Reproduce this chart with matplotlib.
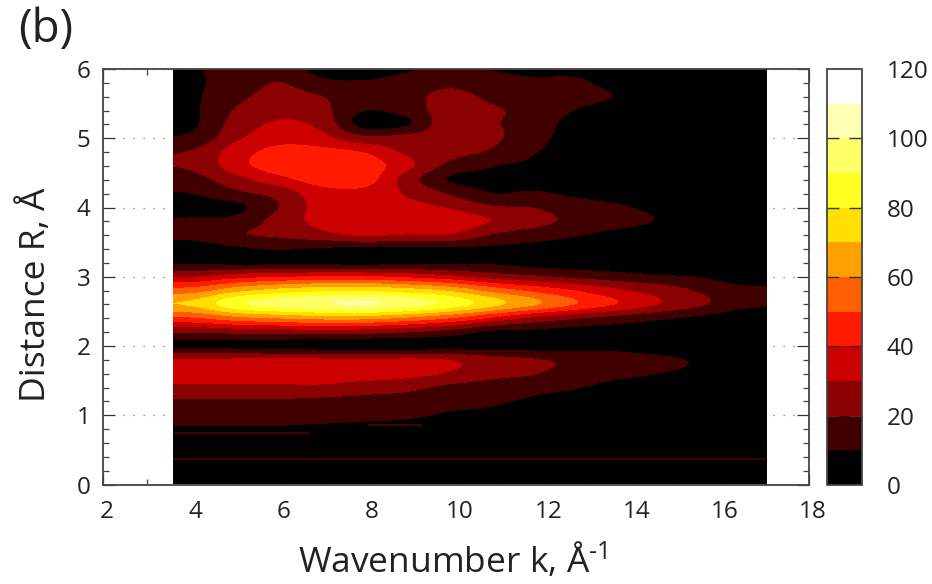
import numpy as np
import matplotlib
matplotlib.use("Agg")
import matplotlib.pyplot as plt
from matplotlib.colors import BoundaryNorm, ListedColormap
from matplotlib.ticker import MultipleLocator
from matplotlib.transforms import ScaledTranslation

plt.rcParams["font.family"] = ["Open Sans", "DejaVu Sans"]
plt.rcParams["mathtext.fontset"] = "custom"
plt.rcParams["mathtext.rm"] = "Open Sans"
plt.rcParams["mathtext.default"] = "regular"

# ------------------------------------------------------------ data
R_VALUES = np.arange(0, 31) * 0.2      # 0.0 ... 6.0
K_RANGE = [3.58, 17.03]

# one list per column of the map (low k -> high k), values at R_VALUES
k_col_01 = [0, 1, 2, 4, 9, 14, 19, 28, 36, 30, 8, 22, 50, 72, 55, 29, 8, 6, 13, 11, 7, 10.5, 17, 22, 21, 12.5, 9, 9, 9, 9, 9.5]
k_col_02 = [0, 1, 2, 4, 9, 14, 19, 28, 37, 31, 7, 24, 58, 88, 66, 35, 7, 9, 19, 13, 8, 18, 27, 36, 35, 28, 24, 21, 17, 14, 13]
k_col_03 = [0, 1, 2, 4, 9, 14, 19, 28, 37, 31, 6, 25, 62, 95, 73, 38, 7, 11, 22, 24, 20, 24, 37, 46, 43, 36, 31, 28, 24, 20, 15]
k_col_04 = [0, 1, 2, 4, 8, 14, 18, 28, 37, 31, 5, 26, 65, 99, 77, 40, 7, 9.5, 27, 33, 34, 36, 45, 48, 43, 33, 27, 23, 20, 12, 7]
k_col_05 = [0, 1, 2, 3, 7, 13, 17, 25, 35, 30, 4, 25, 65, 101, 78, 40, 6, 9, 32, 36, 34, 37, 45, 46, 39, 22, 6, 10.5, 13, 10.5, 6]
k_col_06 = [0, 1, 2, 3, 6, 12, 16, 23, 33, 31, 4, 22, 60, 96, 74, 37, 8, 9, 30, 36, 33, 29, 26, 33, 28, 23, 8.5, 14, 16, 13, 9]
k_col_07 = [0, 0, 1, 2, 3, 9, 13, 18, 29.5, 29.5, 5, 17, 52, 87, 68, 32, 8, 9, 30, 36, 29, 19, 9.5, 18, 24, 26, 26, 25, 23, 17, 11]
k_col_08 = [0, 0, 1, 1, 1, 7, 12, 16, 23, 24, 4, 9, 40, 74, 56, 25, 8.5, 8.5, 20, 30, 21, 10, 7, 11, 19, 22, 21, 21, 18, 14, 9.5]
k_col_09 = [0, 0, 0, 1, 1, 3, 8, 14, 20.5, 20.5, 5, 8, 29, 62, 47, 21, 6, 7, 15, 24, 19.5, 11, 6, 8, 11, 14, 16, 17.5, 16, 12, 7]
k_col_10 = [0, 0, 0, 0, 0, 1, 4, 11, 16.5, 17.5, 5, 6, 22, 50, 39, 17, 5, 5, 11, 17, 14, 8, 4, 3, 5, 5, 6, 10, 14.5, 12, 6]
k_col_11 = [0, 0, 0, 0, 0, 0, 1, 6, 13, 15, 6, 5, 17, 39.5, 31, 14, 3, 3, 7, 14, 11, 6, 3, 2, 2, 2, 3, 5, 9.3, 5, 1]
k_col_12 = [0, 0, 0, 0, 0, 0, 0, 3, 10, 12, 3, 3, 12, 29.5, 25, 11, 2, 2, 4, 9, 7, 4, 2, 1, 1, 1, 1, 2, 3, 2, 0]
k_col_13 = [0, 0, 0, 0, 0, 0, 0, 1, 7, 8, 1, 1, 8, 21, 18, 9, 1, 1, 1, 2, 2, 1, 1, 0, 0, 0, 0, 1, 1, 1, 0]
k_col_14 = [0, 0, 0, 0, 0, 0, 0, 0, 2, 2, 0, 0, 3, 13, 13, 3, 0, 0, 0, 0, 0, 0, 0, 0, 0, 0, 0, 0, 0, 0, 0]

# thin streaks at low R
streak_r = [0.373, 0.74, 0.86]
streak_k_start = [3.58, 3.58, 8.0]
streak_k_end = [17.03, 6.7, 9.25]

# palette, 10 units per band
levels = np.arange(0, 130, 10)
band_colors = ["#000000", "#400000", "#8b0000", "#cc0000", "#ff1a00", "#ff5f00",
               "#ffa000", "#ffe000", "#ffff20", "#ffff66", "#ffffb4", "#ffffff"]
cbar_ticks = [0, 20, 40, 60, 80, 100, 120]
cbar_grid = [20, 40, 60, 80, 100]

W, H = 932, 584
# -----------------------------------------------------------------------------


def px_axes(x0, x1, y_top, y_bottom):
    return fig.add_axes([x0 / W, 1 - y_bottom / H, (x1 - x0) / W, (y_bottom - y_top) / H])


Z = np.column_stack([k_col_01, k_col_02, k_col_03, k_col_04, k_col_05, k_col_06, k_col_07,
                     k_col_08, k_col_09, k_col_10, k_col_11, k_col_12, k_col_13, k_col_14])

cmap = ListedColormap(band_colors)
norm = BoundaryNorm(levels, cmap.N, clip=True)

fig = plt.figure(figsize=(W / 100, H / 100), dpi=100)
ax = px_axes(103, 809, 69, 484.5)

r_half = (R_VALUES[1] - R_VALUES[0]) / 2
# catrom passes through the read values, agg's bicubic smooths them away
im = ax.imshow(Z, origin="lower", aspect="auto", cmap=cmap, norm=norm,
               extent=[K_RANGE[0], K_RANGE[1], R_VALUES[0] - r_half, R_VALUES[-1] + r_half],
               interpolation="catrom", interpolation_stage="data", zorder=1)
ax.hlines(streak_r, streak_k_start, streak_k_end, colors="#4a0000", lw=1.3, zorder=1.5)

ax.set_xlim(2, 18)
ax.set_ylim(0, 6)
ax.set_axisbelow(True)
ax.xaxis.set_major_locator(MultipleLocator(2))
ax.xaxis.set_minor_locator(MultipleLocator(1))
ax.yaxis.set_major_locator(MultipleLocator(1))
ax.yaxis.set_minor_locator(MultipleLocator(0.2))
ax.tick_params(which="major", direction="in", top=True, right=True, length=8.6, width=0.9,
               color="#333333", labelsize=17.5, labelcolor="#222222")
ax.tick_params(which="minor", direction="in", top=True, right=True, length=4.3, width=0.9,
               color="#444444")
ax.tick_params(axis="x", pad=11)
ax.tick_params(axis="y", pad=9)
ax.grid(axis="y", which="major", color="#777777", lw=0.9, ls=(0, (1, 7)))
for s in ax.spines.values():
    s.set_color("#444444")
    s.set_linewidth(1.3)

# the x labels sit a little right of their ticks in the original
shift = ScaledTranslation(4 / 100, 0, fig.dpi_scale_trans)
for lab in ax.get_xticklabels():
    lab.set_transform(lab.get_transform() + shift)

ax.set_xlabel(r"Wavenumber k, Å$^{\text{-1}}$", fontsize=25.5, color="#222222", va="baseline", ha="center")
ax.xaxis.set_label_coords(453 / W, 1 - 573 / H, transform=fig.transFigure)
ax.set_ylabel("Distance R, Å", fontsize=25.5, color="#222222", va="center", ha="center")
ax.yaxis.set_label_coords(36 / W, 1 - 295 / H, transform=fig.transFigure)
fig.text(18 / W, 1 - 42 / H, "(b)", fontsize=33, color="#222222")

# colour bar
cax = px_axes(826.7, 861.7, 69, 485)
cb = fig.colorbar(im, cax=cax, ticks=cbar_ticks, spacing="proportional")
cb.ax.tick_params(length=0, pad=18, labelsize=17.5, labelcolor="#222222")
cb.minorticks_off()
cb.outline.set_edgecolor("#444444")
cb.outline.set_linewidth(1.3)
cb.ax.hlines(cbar_grid, 0, 1, transform=cb.ax.get_yaxis_transform(), colors="#333333",
             lw=1.0, ls=(0, (8.6, 7.2)), zorder=3)

fig.savefig("out.png", dpi=100)
